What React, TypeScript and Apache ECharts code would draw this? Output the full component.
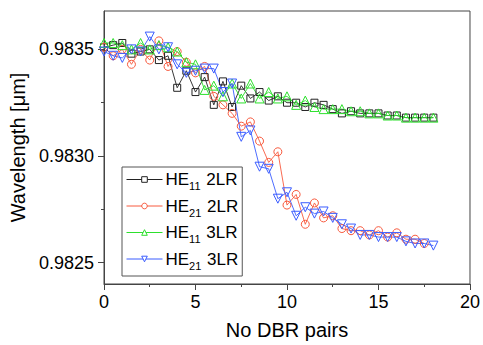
import React, { useEffect, useRef } from 'react';
import * as echarts from 'echarts';

const xPairs = [0, 0.5, 1, 1.5, 2, 2.5, 3, 3.5, 4, 4.5, 5, 5.5, 6, 6.5, 7, 7.5, 8, 8.5, 9, 9.5, 10, 10.5, 11, 11.5, 12, 12.5, 13, 13.5, 14, 14.5, 15, 15.5, 16, 16.5, 17, 17.5, 18];

const he11_2LR = [0.98351, 0.98352, 0.98353, 0.98348, 0.98349, 0.9835, 0.98345, 0.98347, 0.98332, 0.9834, 0.9833, 0.98337, 0.98324, 0.98335, 0.98323, 0.98333, 0.98327, 0.9833, 0.98326, 0.98328, 0.98325, 0.98325, 0.98323, 0.98325, 0.98324, 0.98322, 0.9832, 0.98321, 0.9832, 0.9832, 0.9832, 0.98319, 0.98319, 0.98318, 0.98318, 0.98318, 0.98318];
const he21_2LR = [0.98351, 0.98347, 0.9835, 0.98343, 0.9835, 0.98345, 0.98354, 0.98342, 0.98349, 0.98344, 0.98339, 0.98342, 0.98328, 0.98324, 0.9832, 0.98314, 0.98316, 0.98307, 0.98297, 0.98302, 0.98277, 0.98282, 0.98268, 0.98278, 0.98271, 0.98272, 0.98266, 0.98265, 0.98265, 0.98263, 0.98265, 0.98262, 0.98264, 0.98261, 0.98261, 0.98259];
const he11_3LR = [0.98353, 0.98353, 0.98352, 0.9835, 0.98353, 0.9835, 0.98352, 0.98351, 0.98349, 0.98344, 0.98343, 0.98331, 0.98333, 0.98328, 0.98334, 0.98327, 0.98334, 0.98327, 0.9833, 0.98327, 0.98328, 0.98324, 0.98326, 0.98323, 0.98322, 0.98322, 0.98322, 0.98321, 0.98321, 0.9832, 0.9832, 0.98319, 0.98319, 0.98318, 0.98318, 0.98318, 0.98318];
const he21_3LR = [0.98349, 0.98347, 0.98346, 0.9835, 0.98349, 0.98356, 0.9835, 0.98351, 0.98343, 0.98339, 0.9834, 0.98341, 0.98341, 0.9833, 0.98334, 0.98309, 0.98312, 0.98295, 0.98294, 0.9828, 0.98283, 0.98272, 0.98276, 0.98273, 0.98274, 0.98271, 0.98268, 0.98266, 0.98263, 0.98263, 0.98262, 0.98262, 0.98262, 0.9826, 0.98259, 0.98259, 0.98258];

const xTicks = [0, 5, 10, 15, 20];
const yTicks = [0.9825, 0.983, 0.9835];
const yMinorTicks = [0.98275, 0.98325];

const seriesNames = ['HE11 2LR', 'HE21 2LR', 'HE11 3LR', 'HE21 3LR'];

const FONT = 'Liberation Sans, Arial, Helvetica, sans-serif';

export default function App() {
  const ref = useRef<HTMLDivElement>(null);
  useEffect(() => {
    if (!ref.current) return;
    const chart = echarts.init(ref.current, undefined, { renderer: 'svg' });
    const pair = (vals: number[]) => vals.map((v, i) => [xPairs[i], v]);
    const mk = (name: string, vals: number[], color: string, symbol: string, size: number, rotate = 0) => ({
      name,
      type: 'line',
      data: pair(vals),
      symbol,
      symbolSize: size,
      symbolRotate: rotate,
      showAllSymbol: true,
      lineStyle: { color, width: 0.9 },
      itemStyle: { color: 'rgba(255,255,255,0)', borderColor: color, borderWidth: 1 },
      emphasis: { disabled: true },
    });
    chart.setOption({
      animation: false,
      backgroundColor: '#fff',
      textStyle: { fontFamily: FONT },
      grid: { left: 104, right: 11, top: 11, bottom: 60, show: true, borderColor: '#444', borderWidth: 1 },
      legend: {
        left: 122,
        top: 167,
        orient: 'vertical',
        data: seriesNames,
        itemWidth: 36,
        itemHeight: 7,
        itemGap: 6,
        padding: [4, 4, 5, 4],
        borderColor: '#555',
        borderWidth: 1,
        backgroundColor: '#fff',
        selectedMode: false,
        itemStyle: { color: '#ffffff', borderColor: 'inherit', borderWidth: 1 },
        lineStyle: { width: 1 },
        formatter: (name: string) => name.replace(/HE(\d+) /, 'HE{s|$1} '),
        textStyle: {
          fontFamily: FONT,
          fontSize: 17,
          color: '#000',
          padding: [0, 0, 0, -2],
          rich: { s: { fontSize: 11, fontFamily: FONT, padding: [13, 1, 0, 0], color: '#000' } },
        },
      },
      xAxis: {
        type: 'value',
        min: 0,
        max: 20,
        interval: 5,
        name: 'No DBR pairs',
        nameLocation: 'middle',
        nameGap: 36,
        nameTextStyle: { fontSize: 20, color: '#000', fontFamily: FONT },
        axisLine: { lineStyle: { color: '#444' } },
        axisTick: { length: 6, lineStyle: { color: '#444' }, customValues: xTicks },
        minorTick: { show: true, splitNumber: 2, length: 3, lineStyle: { color: '#444' } },
        axisLabel: { fontSize: 18, color: '#000', margin: 9, fontFamily: FONT, customValues: xTicks },
        splitLine: { show: false },
      },
      yAxis: [
        {
          type: 'value',
          min: 0.9824,
          max: 0.98368,
          name: 'Wavelength [\u03bcm]',
          nameLocation: 'middle',
          nameGap: 74,
          nameTextStyle: { fontSize: 20, color: '#000', fontFamily: FONT },
          axisLine: { show: true, lineStyle: { color: '#444' } },
          axisTick: { show: true, length: 6, lineStyle: { color: '#444' }, customValues: yTicks },
          axisLabel: {
            fontSize: 18,
            color: '#000',
            margin: 10,
            fontFamily: FONT,
            customValues: yTicks,
            formatter: (v: number) => v.toFixed(4),
          },
          splitLine: { show: false },
        },
        {
          type: 'value',
          min: 0.9824,
          max: 0.98368,
          position: 'left',
          axisLine: { show: false },
          axisTick: { show: true, length: 3, lineStyle: { color: '#444' }, customValues: yMinorTicks },
          axisLabel: { show: false },
          splitLine: { show: false },
        },
      ],
      series: [
        mk(seriesNames[0], he11_2LR, '#222222', 'rect', 7),
        mk(seriesNames[1], he21_2LR, '#f85a3e', 'circle', 8),
        mk(seriesNames[2], he11_3LR, '#2de02d', 'triangle', 9),
        mk(seriesNames[3], he21_3LR, '#3a5cff', 'triangle', 9, 180),
      ],
    });
    return () => chart.dispose();
  }, []);
  return <div ref={ref} style={{ position: 'fixed', left: 0, top: 0, width: 483, height: 345 }} />;
}
